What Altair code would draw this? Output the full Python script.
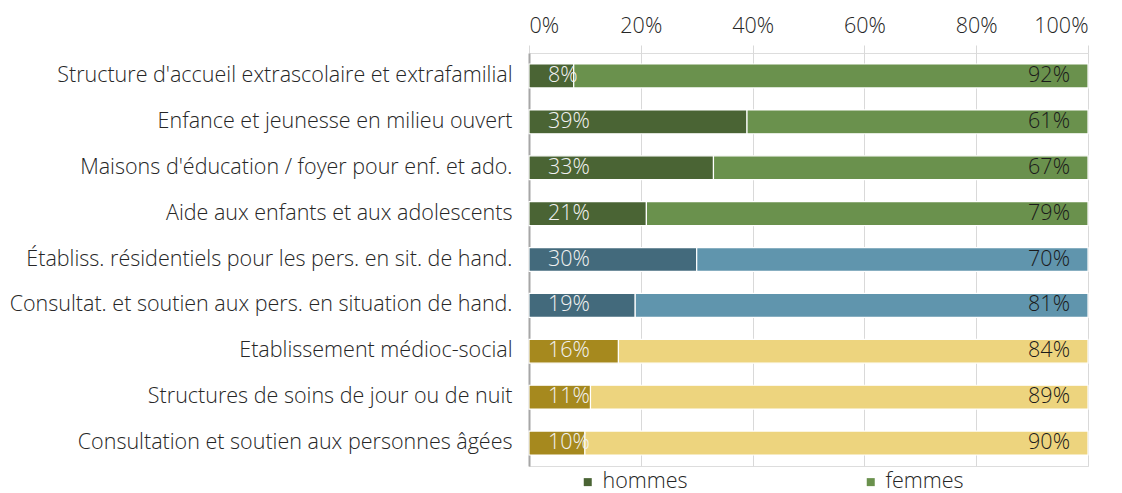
import altair as alt
import pandas as pd

categories = [
    "Structure d'accueil extrascolaire et extrafamilial",
    "Enfance et jeunesse en milieu ouvert",
    "Maisons d'éducation / foyer pour enf. et ado.",
    "Aide aux enfants et aux adolescents",
    "Établiss. résidentiels pour les pers. en sit. de hand.",
    "Consultat. et soutien aux pers. en situation de hand.",
    "Etablissement médioc-social",
    "Structures de soins de jour ou de nuit",
    "Consultation et soutien aux personnes âgées",
]
groups = ["vert", "vert", "vert", "vert", "bleu", "bleu", "jaune", "jaune", "jaune"]
hommes = [8, 39, 33, 21, 30, 19, 16, 11, 10]
femmes = [92, 61, 67, 79, 70, 81, 84, 89, 90]

keys = ["vert|hommes", "vert|femmes", "bleu|hommes", "bleu|femmes", "jaune|hommes", "jaune|femmes"]
colors = ["#4a6434", "#6a914d", "#436a7c", "#6095ad", "#a6891e", "#edd47e"]

rows = []
for c, g, h, f in zip(categories, groups, hommes, femmes):
    rows.append({"cat": c, "sexe": "hommes", "val": h, "key": g + "|hommes", "ord": 0})
    rows.append({"cat": c, "sexe": "femmes", "val": f, "key": g + "|femmes", "ord": 1})
df = pd.DataFrame(rows)

FONT = "Open Sans"
FS = 21.5
FW = 300

y_enc = alt.Y("cat:N", sort=categories, title=None,
              scale=alt.Scale(paddingInner=0.48, paddingOuter=0.24),
              axis=alt.Axis(labelFontSize=FS, labelColor="#262626", labelFont=FONT,
                            labelFontWeight=FW,
                            ticks=False, domain=True, domainColor="#a6a6a6", domainWidth=2,
                            labelPadding=17, labelLimit=600))

bars = alt.Chart(df).mark_bar(stroke="white", strokeWidth=1.2).encode(
    x=alt.X("val:Q", stack="zero", title=None,
            scale=alt.Scale(domain=[0, 100], nice=False),
            axis=alt.Axis(orient="top", values=[0, 20, 40, 60, 80, 100],
                          labelExpr="datum.value + '%'", labelFontSize=FS,
                          labelFontWeight=FW,
                          labelColor="#262626", labelFont=FONT, domain=False,
                          grid=True, gridColor="#d9d9d9", gridWidth=1,
                          ticks=True, tickColor="#d9d9d9", tickSize=8, labelPadding=8)),
    y=y_enc,
    color=alt.Color("key:N", scale=alt.Scale(domain=keys, range=colors),
                    legend=alt.Legend(values=["vert|hommes", "vert|femmes"],
                                      labelExpr="split(datum.label, '|')[1]",
                                      title=None, orient="none", direction="horizontal",
                                      legendX=48, legendY=418,
                                      symbolType="square", symbolSize=64,
                                      symbolStrokeWidth=0,
                                      labelFontSize=FS, labelFont=FONT, labelFontWeight=FW,
                                      labelColor="#262626", columnPadding=172,
                                      labelOffset=4)),
    order=alt.Order("ord:Q"),
)

base_text = alt.Chart(df).transform_calculate(
    lx="datum.sexe == 'hommes' ? 0 : 100",
    lbl="datum.val + '%'",
)

text_h = base_text.transform_filter("datum.sexe == 'hommes'").mark_text(
    align="left", dx=19, fontSize=FS, font=FONT, fontWeight=FW, color="#f2f2f2", baseline="middle"
).encode(x="lx:Q", y=alt.Y("cat:N", sort=categories), text="lbl:N")

text_f = base_text.transform_filter("datum.sexe == 'femmes'").mark_text(
    align="right", dx=-18, fontSize=FS, font=FONT, fontWeight=FW, color="#1a1a1a", baseline="middle"
).encode(x="lx:Q", y=alt.Y("cat:N", sort=categories), text="lbl:N")

chart = alt.layer(bars, text_h, text_f).properties(
    width=559, height=413
).configure_view(stroke=None).configure(padding={"left": 1, "top": 7, "right": 20, "bottom": 2})

chart.save("out.html", embed_options={"renderer": "svg", "actions": False})
